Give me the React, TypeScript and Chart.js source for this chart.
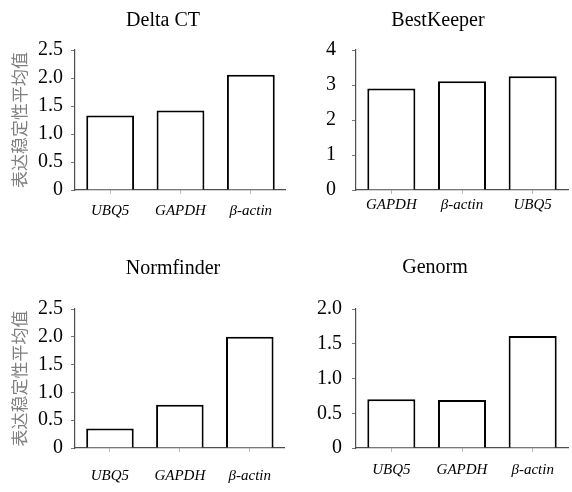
import React, { useEffect, useRef } from 'react';
import { Chart, registerables } from 'chart.js';

Chart.register(...registerables);

// ---- data ----
const DELTA_CATS = ['UBQ5', 'GAPDH', 'β-actin'];
const DELTA_VALUES = [1.33, 1.42, 2.06];
const DELTA_TICKS = ['0', '0.5', '1.0', '1.5', '2.0', '2.5'];

const BEST_CATS = ['GAPDH', 'β-actin', 'UBQ5'];
const BEST_VALUES = [2.9, 3.11, 3.25];
const BEST_TICKS = ['0', '1', '2', '3', '4'];

const NORM_CATS = ['UBQ5', 'GAPDH', 'β-actin'];
const NORM_VALUES = [0.35, 0.78, 2.0];
const NORM_TICKS = ['0', '0.5', '1.0', '1.5', '2.0', '2.5'];

const GENORM_CATS = ['UBQ5', 'GAPDH', 'β-actin'];
const GENORM_VALUES = [0.7, 0.69, 1.61];
const GENORM_TICKS = ['0', '0.5', '1.0', '1.5', '2.0'];

const Y_TITLE = '表达稳定性平均值';

const W = 286;
const H = 246;

const panelTitlePlugin = {
  id: 'panelTitle',
  afterDraw(chart: any, _args: any, opts: any) {
    if (!opts || !opts.text) return;
    const ctx = chart.ctx;
    ctx.save();
    ctx.font = opts.font;
    ctx.fillStyle = opts.color;
    ctx.textAlign = 'center';
    ctx.textBaseline = 'middle';
    ctx.fillText(opts.text, opts.x, opts.y);
    ctx.restore();
  },
};

type PanelProps = {
  title: string;
  titleX: number;
  titleY: number;
  cats: string[];
  values: number[];
  ticks: string[];
  yTitle: boolean;
  left: number;
  right: number;
  top: number;
  bottom: number;
  yPad: number;
  xPad: number;
};

function Panel(p: PanelProps) {
  const ref = useRef<HTMLCanvasElement | null>(null);
  useEffect(() => {
    if (!ref.current) return;
    const max = parseFloat(p.ticks[p.ticks.length - 1]);
    const step = parseFloat(p.ticks[1]);
    const chart = new Chart(ref.current, {
      type: 'bar',
      data: {
        labels: p.cats,
        datasets: [
          {
            data: p.values,
            backgroundColor: '#ffffff',
            borderColor: '#000000',
            borderWidth: 2,
            barPercentage: 0.68,
            categoryPercentage: 1,
          },
        ],
      },
      plugins: [panelTitlePlugin as any],
      options: {
        responsive: false,
        animation: false,
        layout: { padding: { left: 0, top: p.top, right: W - p.right, bottom: 0 } },
        plugins: {
          legend: { display: false },
          tooltip: { enabled: false },
          title: { display: false },
          panelTitle: {
            text: p.title,
            x: p.titleX,
            y: p.titleY,
            font: '20px "Liberation Serif"',
            color: '#000000',
          },
        } as any,
        scales: {
          x: {
            type: 'category',
            offset: true,
            z: 1,
            grid: {
              display: true,
              drawOnChartArea: false,
              drawTicks: true,
              tickLength: 4,
              offset: false,
              color: '#bbbbbb',
              lineWidth: 1,
            },
            border: { display: true, color: '#4d4d4d', width: 1.2 },
            ticks: {
              font: { family: 'Liberation Serif', size: 15, style: 'italic' },
              color: '#000000',
              padding: p.xPad,
              maxRotation: 0,
              autoSkip: false,
            },
            afterFit: (s: any) => {
              s.height = H - p.bottom;
            },
          },
          y: {
            min: 0,
            max: max,
            ticks: {
              stepSize: step,
              callback: (_v: any, i: number) => p.ticks[i],
              font: { family: 'Liberation Serif', size: 20 },
              color: '#000000',
              padding: p.yPad,
            },
            grid: {
              drawOnChartArea: false,
              drawTicks: true,
              tickLength: 4,
              color: '#777777',
            },
            border: { display: true, color: '#4d4d4d', width: 1.2 },
            title: {
              display: p.yTitle,
              text: Y_TITLE,
              font: { family: 'Noto Sans CJK SC', size: 17 },
              color: '#808080',
              padding: { top: 9, bottom: 0 },
            },
            afterFit: (s: any) => {
              s.width = p.left;
            },
          },
        },
      } as any,
    });
    return () => chart.destroy();
  }, []);
  return <canvas ref={ref} width={W} height={H} style={{ display: 'block', width: W, height: H }} />;
}

export default function App() {
  return (
    <div
      style={{
        position: 'absolute',
        left: 0,
        top: 0,
        width: 572,
        height: 492,
        background: '#ffffff',
        display: 'grid',
        gridTemplateColumns: `${W}px ${W}px`,
        gridTemplateRows: `${H}px ${H}px`,
      }}
    >
      <Panel
        title="Delta CT"
        titleX={163}
        titleY={21}
        cats={DELTA_CATS}
        values={DELTA_VALUES}
        ticks={DELTA_TICKS}
        yTitle={true}
        left={75}
        right={286}
        top={50}
        bottom={190}
        yPad={8}
        xPad={8}
      />
      <Panel
        title="BestKeeper"
        titleX={152}
        titleY={21}
        cats={BEST_CATS}
        values={BEST_VALUES}
        ticks={BEST_TICKS}
        yTitle={false}
        left={70}
        right={282}
        top={50}
        bottom={190}
        yPad={16}
        xPad={2}
      />
      <Panel
        title="Normfinder"
        titleX={173}
        titleY={23}
        cats={NORM_CATS}
        values={NORM_VALUES}
        ticks={NORM_TICKS}
        yTitle={true}
        left={75}
        right={286}
        top={63}
        bottom={202}
        yPad={8}
        xPad={15}
      />
      <Panel
        title="Genorm"
        titleX={149}
        titleY={22}
        cats={GENORM_CATS}
        values={GENORM_VALUES}
        ticks={GENORM_TICKS}
        yTitle={false}
        left={70}
        right={282}
        top={63}
        bottom={202}
        yPad={10}
        xPad={9}
      />
    </div>
  );
}
